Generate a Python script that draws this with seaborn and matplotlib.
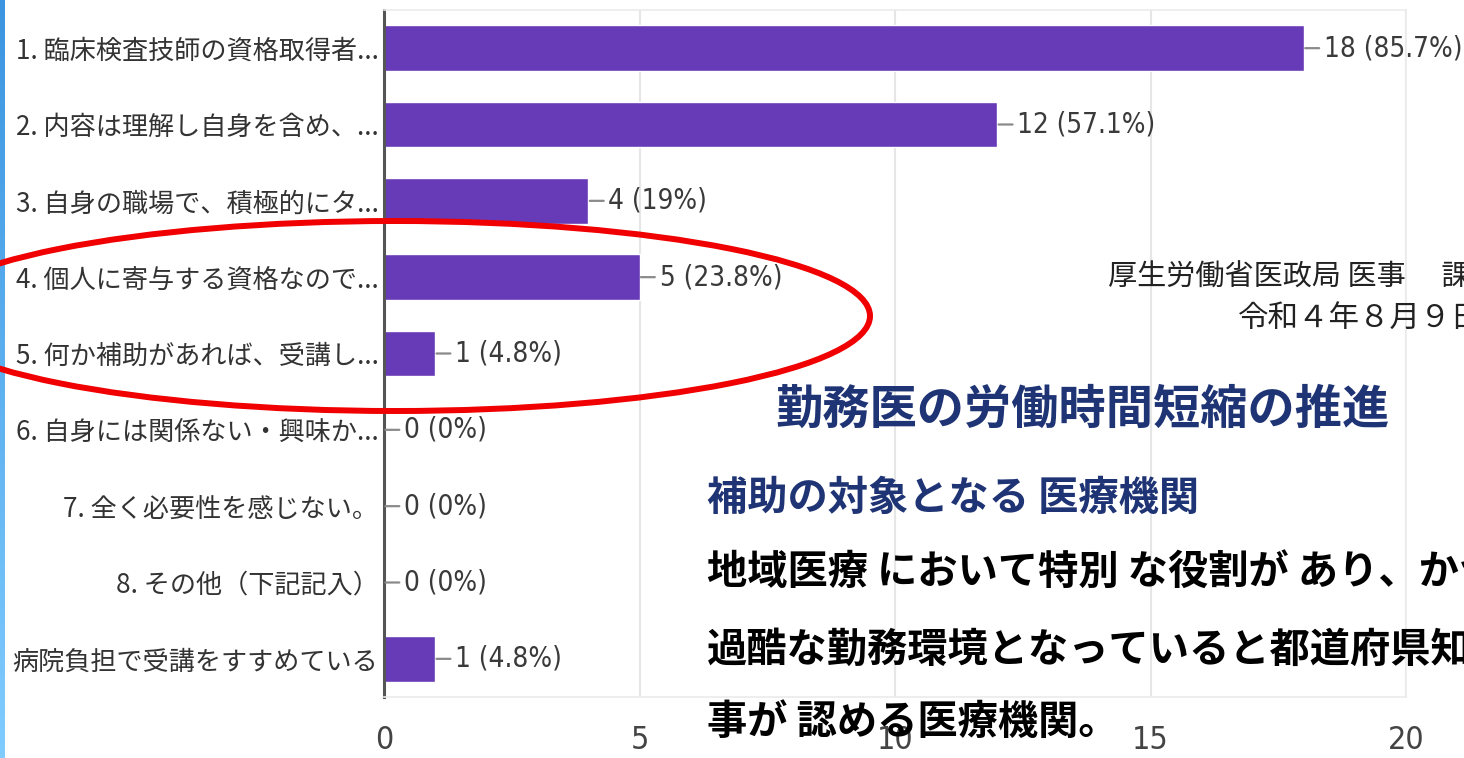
import matplotlib
matplotlib.use("Agg")
import matplotlib.pyplot as plt
import matplotlib.colors as mcolors
from matplotlib.patches import Ellipse
import numpy as np
import seaborn as sns

# データ
labels = [
    "1. 臨床検査技師の資格取得者...",
    "2. 内容は理解し自身を含め、...",
    "3. 自身の職場で、積極的にタ...",
    "4. 個人に寄与する資格なので...",
    "5. 何か補助があれば、受講し...",
    "6. 自身には関係ない・興味か...",
    "7. 全く必要性を感じない。",
    "8. その他（下記記入）",
    "病院負担で受講をすすめている",
]
counts = [18, 12, 4, 5, 1, 0, 0, 0, 1]
percents = ["85.7%", "57.1%", "19%", "23.8%", "4.8%", "0%", "0%", "0%", "4.8%"]
xticks = [0, 5, 10, 15, 20]

source_lines = ["厚生労働省医政局 医事　 課", "令和４年８月９日"]
title_text = "勤務医の労働時間短縮の推進"
sub_text = "補助の対象となる 医療機関"
body_lines = [
    "地域医療 において特別 な役割が あり、かつ",
    "過酷な勤務環境となっていると都道府県知",
    "事が 認める医療機関。",
]

sns.set_style("white")
plt.rcParams['font.family'] = ['Noto Sans CJK JP', 'DejaVu Sans']
narrow = ['DejaVu Sans']
jp = ['Noto Sans CJK JP', 'DejaVu Sans']

W, H = 1464, 758
fig = plt.figure(figsize=(W / 100, H / 100), dpi=100)
ax = fig.add_axes([384 / W, 1 - 697 / H, (1406 - 384) / W, (697 - 10) / H])

sns.barplot(x=counts, y=labels, orient='h', color='#673ab7', saturation=1,
            width=0.6, ax=ax)

ax.set_xlim(0, 20)
ax.set_xticks(xticks)
ax.set_xlabel('')
ax.set_ylabel('')
ax.grid(axis='x', color='#e6e6e6', lw=1.5)
ax.set_axisbelow(True)
for s in ['top', 'bottom', 'right']:
    ax.spines[s].set_color('#ebebeb')
    ax.spines[s].set_linewidth(1.2)
ax.spines['left'].set_color('#555555')
ax.spines['left'].set_linewidth(2.2)
ax.tick_params(axis='both', length=0)
ax.tick_params(axis='y', pad=4, labelsize=18.8, labelcolor='#333333')
ax.tick_params(axis='x', pad=20, labelsize=23, labelcolor='#444444')
for t in ax.get_yticklabels():
    t.set_family(jp)
for t in ax.get_xticklabels():
    t.set_family(narrow)
    t.set_stretch('condensed')

# 値ラベル（引き出し線付き）
for i, (c, p) in enumerate(zip(counts, percents)):
    ax.annotate(f"{c} ({p})", xy=(c, i), xytext=(20, 0), textcoords='offset pixels',
                ha='left', va='center', fontsize=20, color='#3a3a3a', family=narrow,
                stretch='condensed',
                arrowprops=dict(arrowstyle='-', color='#8a8a8a', lw=1.6,
                                relpos=(0, 0.5), shrinkA=1, shrinkB=1))

# 重ね書き（スライド上の注記）
ov = fig.add_axes([0, 0, 1, 1])
grad = np.linspace(0, 1, 200)[:, None, None]
c0 = np.array(mcolors.to_rgb('#3b95e0'))
c1 = np.array(mcolors.to_rgb('#80ccff'))
ov.imshow(c0 + (c1 - c0) * grad, extent=[0, 5, H, 0], aspect='auto')
ov.set_xlim(0, W)
ov.set_ylim(H, 0)
ov.axis('off')
ov.patch.set_alpha(0)

ov.add_patch(Ellipse((395, 316), 950, 190, fill=False, ec='#f00000', lw=4.3))

ov.text(1108, 278, source_lines[0], fontsize=21, color='#222222', va='center', family=jp)
ov.text(1238, 318, source_lines[1], fontsize=22, color='#222222', va='center', family=jp)
ov.text(775, 410, title_text, fontsize=34, color='#1f3474', va='center',
        fontweight='bold', family=jp)
ov.text(707, 498, sub_text, fontsize=29, color='#1f3474', va='center',
        fontweight='bold', family=jp)
for y, line in zip([572, 650, 722], body_lines):
    ov.text(707, y, line, fontsize=29, color='black', va='center',
            fontweight='bold', family=jp)

fig.savefig("out.png", dpi=100)
